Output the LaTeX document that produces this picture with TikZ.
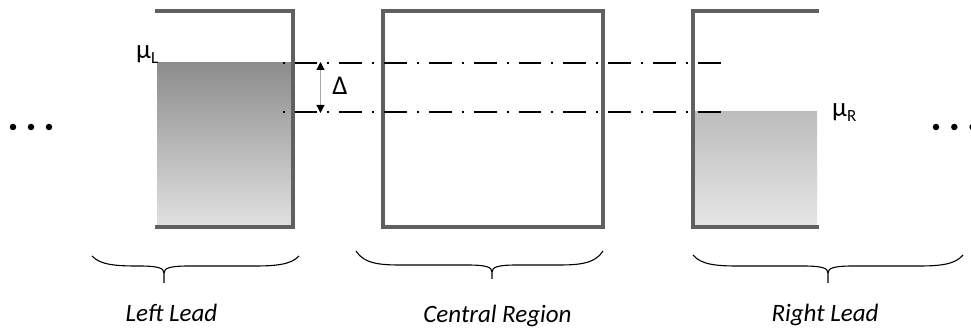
\documentclass[tikz,border=0pt]{standalone}
\usepackage{fontspec}
\setmainfont{Carlito}
\usetikzlibrary{arrows.meta}

\tikzset{
  wall/.style={draw=wallgray, line width=4pt, line cap=rect},
  level/.style={line width=2.8pt, black, dash pattern=on 2pt off 10pt on 22.8pt off 10pt},
  brace/.style={draw=black, line width=1.1pt, line join=round},
  leadlabel/.style={font=\fontsize{25}{27}\selectfont\itshape, anchor=base, inner sep=0pt},
  sym/.style={font=\fontsize{27}{30}\selectfont, inner sep=0pt},
  dot/.style={circle, fill=black, inner sep=0pt, minimum size=6.5pt},
}
\definecolor{wallgray}{HTML}{606060}

\newcommand{\curlybrace}[6]{% x1, x2, y_end, y_mid, x_tip, y_tip
  \draw[brace] (#1,#3) .. controls (#1+8,#4-1) and (#1+25,#4) .. (#1+45,#4)
    -- (#5-25,#4) .. controls (#5-6,#4) and (#5,#4+2) .. (#5,#4+7) -- (#5,#6);
  \draw[brace] (#2,#3) .. controls (#2-8,#4-1) and (#2-25,#4) .. (#2-45,#4)
    -- (#5+25,#4) .. controls (#5+6,#4) and (#5,#4+2) .. (#5,#4+7);
}

\begin{document}
\begin{tikzpicture}[x=1pt, y=-1pt]
\useasboundingbox (0,0) rectangle (971,328);

% electron seas of the two leads
\shade[top color=black!45, bottom color=black!12] (157,63) rectangle (293,225);
\shade[top color=black!26, bottom color=black!10] (693,112) rectangle (817,225);

% walls of the three regions
\draw[wall] (157,11) -- (293,11) -- (293,227) -- (157,227);
\draw[wall] (383,11) rectangle (603,227);
\draw[wall] (817,11) -- (693,11) -- (693,227) -- (817,227);

% chemical potential levels
\coordinate (muLa) at (282.5,63);
\coordinate (muLb) at (722,63);
\coordinate (muRa) at (282.5,112);
\coordinate (muRb) at (722,112);
\draw[level] (muLa) -- (muLb);
\draw[level] (muRa) -- (muRb);

% bias window
\coordinate (biasTop) at (320.5,62);
\coordinate (biasBot) at (320.5,113);
\draw[black!35, line width=1.2pt, {Triangle[black,width=8pt,length=8pt]}-{Triangle[black,width=8pt,length=8pt]}] (biasTop) -- (biasBot);
\node[sym] (delta) at (340,86) {Δ};

% potential labels
\node[sym, anchor=base west] (muL) at (136,59) {μ\raisebox{-5pt}{\fontsize{17}{17}\selectfont L}};
\node[sym, anchor=base west] (muR) at (832,117) {μ\raisebox{-5pt}{\fontsize{17}{17}\selectfont R}};

% continuation dots
\foreach \x [count=\i] in {13,31,49} \node[dot] (ldot\i) at (\x,127) {};
\foreach \x [count=\i] in {936,954.3,972.6} \node[dot] (rdot\i) at (\x,127) {};

% braces and region names
\curlybrace{92}{299}{256}{266}{164}{283}
\curlybrace{356}{603}{251}{265}{492}{279}
\curlybrace{693}{963}{255}{266}{828}{283}

\node[leadlabel] (leftlead) at (171.5,322) {Left Lead};
\node[leadlabel] (central) at (497.5,323) {Central Region};
\node[leadlabel] (rightlead) at (825,322) {Right Lead};
\end{tikzpicture}
\end{document}
